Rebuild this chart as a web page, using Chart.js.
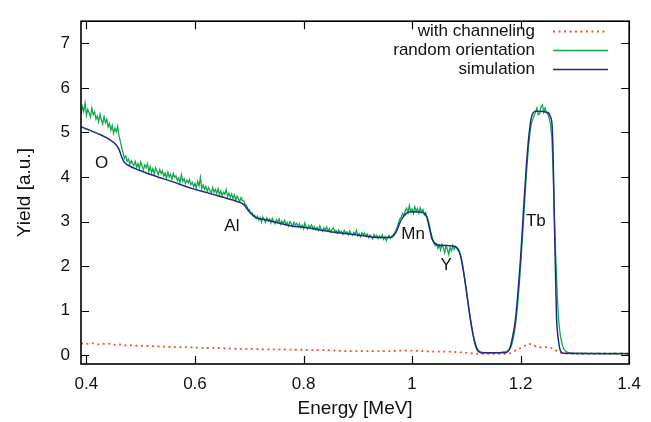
<!DOCTYPE html>
<html>
<head>
<meta charset="utf-8">
<script src="https://cdn.jsdelivr.net/npm/chart.js@4.4.0/dist/chart.umd.min.js"></script>
<style>
  html, body { margin: 0; padding: 0; background: #fff; }
</style>
</head>
<body>
<canvas id="rbsChart" width="651" height="422"></canvas>
<script>
// RBS spectrum, random orientation: one value per channel
const channelStart = 0.39;    // energy of first channel [MeV]
const channelWidth = 0.0025;  // [MeV]
const randomYield = [
  5.42, 5.58, 5.47, 5.66, 5.38, 5.52, 5.44, 5.35, 5.55, 5.40,
  5.46, 5.30, 5.37, 5.24, 5.41, 5.28, 5.19, 5.36, 5.22, 5.30,
  5.12, 5.20, 5.05, 5.16, 4.98, 5.10, 5.02, 5.14, 4.92, 4.80,
  4.66, 4.55, 4.42, 4.47, 4.35, 4.40, 4.29, 4.37, 4.31, 4.26,
  4.35, 4.22, 4.30, 4.18, 4.34, 4.25, 4.16, 4.27, 4.21, 4.30,
  4.12, 4.24, 4.10, 4.19, 4.07, 4.21, 4.13, 4.05, 4.17, 4.08,
  4.14, 4.02, 4.09, 3.97, 4.11, 4.00, 4.06, 3.95, 4.08, 3.99,
  4.03, 3.92, 3.98, 3.88, 4.05, 3.90, 3.96, 3.85, 3.93, 3.87,
  3.94, 3.83, 3.88, 3.78, 3.86, 3.75, 3.90, 3.80, 3.99, 3.74,
  3.82, 3.72, 3.79, 3.68, 3.76, 3.70, 3.64, 3.77, 3.66, 3.72,
  3.63, 3.74, 3.60, 3.69, 3.58, 3.66, 3.61, 3.72, 3.56, 3.64,
  3.55, 3.62, 3.52, 3.60, 3.49, 3.57, 3.51, 3.45, 3.54, 3.47,
  3.46, 3.38, 3.36, 3.28, 3.27, 3.18, 3.20, 3.12, 3.14, 3.06,
  3.12, 3.03, 3.09, 2.99, 3.10, 3.04, 2.98, 3.08, 3.01, 3.06,
  2.97, 3.07, 3.00, 2.95, 3.04, 2.98, 3.06, 2.94, 3.01, 2.96,
  3.03, 2.93, 2.98, 2.90, 3.00, 2.95, 2.89, 2.98, 2.92, 2.96,
  2.88, 2.95, 2.86, 2.92, 2.84, 2.97, 2.88, 2.83, 2.91, 2.86,
  2.92, 2.84, 2.89, 2.81, 2.87, 2.80, 2.90, 2.83, 2.78, 2.86,
  2.81, 2.88, 2.79, 2.84, 2.76, 2.82, 2.86, 2.77, 2.80, 2.74,
  2.81, 2.75, 2.78, 2.71, 2.80, 2.74, 2.77, 2.70, 2.79, 2.73,
  2.69, 2.76, 2.72, 2.80, 2.68, 2.73, 2.66, 2.75, 2.70, 2.74,
  2.67, 2.72, 2.64, 2.70, 2.66, 2.61, 2.71, 2.65, 2.69, 2.62,
  2.68, 2.63, 2.70, 2.60, 2.66, 2.57, 2.64, 2.69, 2.62, 2.67,
  2.70, 2.74, 2.80, 2.88, 2.97, 3.06, 3.10, 3.18, 3.14, 3.24,
  3.30, 3.20, 3.36, 3.22, 3.28, 3.18, 3.33, 3.24, 3.29, 3.19,
  3.31, 3.22, 3.27, 3.15, 3.20, 3.10, 3.02, 2.88, 2.74, 2.62,
  2.54, 2.46, 2.50, 2.40, 2.47, 2.36, 2.49, 2.42, 2.30, 2.45,
  2.38, 2.26, 2.42, 2.34, 2.46, 2.37, 2.44, 2.40, 2.35, 2.30,
  2.22, 2.08, 1.88, 1.66, 1.46, 1.24, 1.02, 0.82, 0.63, 0.46,
  0.33, 0.22, 0.15, 0.10, 0.08, 0.07, 0.06, 0.05, 0.06, 0.05,
  0.05, 0.04, 0.05, 0.05, 0.04, 0.05, 0.06, 0.05, 0.05, 0.06,
  0.06, 0.07, 0.07, 0.08, 0.09, 0.11, 0.13, 0.19, 0.30, 0.44,
  0.62, 0.88, 1.20, 1.58, 2.00, 2.46, 2.95, 3.45, 3.95, 4.38,
  4.75, 5.02, 5.22, 5.30, 5.38, 5.46, 5.55, 5.40, 5.42, 5.58,
  5.62, 5.46, 5.55, 5.44, 5.42, 5.32, 5.18, 4.90, 4.10, 3.00,
  2.10, 1.35, 0.80, 0.50, 0.32, 0.20, 0.13, 0.09, 0.07, 0.06,
  0.05, 0.05, 0.04, 0.05, 0.04, 0.04, 0.05, 0.04, 0.04, 0.05,
  0.04, 0.04, 0.05, 0.04, 0.04, 0.04, 0.05, 0.04, 0.04, 0.04,
  0.04, 0.05, 0.04, 0.04, 0.04, 0.04, 0.05, 0.04, 0.04, 0.04,
  0.04, 0.04, 0.04, 0.05, 0.04, 0.04, 0.04, 0.04, 0.05, 0.04,
  0.04, 0.04, 0.04, 0.04, 0.04
];

// simulated spectrum
const simEnergy = [0.39, 0.40, 0.42, 0.44, 0.455, 0.46, 0.465, 0.47, 0.476, 0.50,
  0.534, 0.55, 0.595, 0.622, 0.65, 0.68, 0.69, 0.70, 0.711, 0.73,
  0.778, 0.80, 0.85, 0.90, 0.94, 0.96, 0.97, 0.98, 0.99, 1.00,
  1.02, 1.027, 1.032, 1.037, 1.046, 1.06, 1.079, 1.088, 1.095, 1.10,
  1.105, 1.11, 1.115, 1.12, 1.13, 1.17, 1.18, 1.185, 1.19, 1.195,
  1.20, 1.205, 1.21, 1.215, 1.22, 1.228, 1.25, 1.255, 1.258, 1.26,
  1.262, 1.264, 1.266, 1.27, 1.274, 1.28, 1.40];
const simYield = [5.13, 5.08, 4.98, 4.86, 4.72, 4.62, 4.45, 4.33, 4.27, 4.14,
  3.99, 3.93, 3.74, 3.65, 3.55, 3.44, 3.38, 3.22, 3.10, 3.04,
  2.90, 2.87, 2.77, 2.70, 2.64, 2.64, 2.75, 3.04, 3.19, 3.22,
  3.20, 3.10, 2.85, 2.60, 2.48, 2.46, 2.44, 2.29, 1.85, 1.45,
  1.00, 0.61, 0.30, 0.12, 0.05, 0.05, 0.15, 0.40, 0.75, 1.40,
  2.20, 3.20, 4.15, 4.90, 5.35, 5.48, 5.45, 5.35, 5.15, 4.40,
  3.10, 2.00, 0.90, 0.30, 0.08, 0.04, 0.03];

// aligned (channeling) spectrum
const chanEnergy = [0.39, 0.40, 0.41, 0.42, 0.43, 0.44, 0.45, 0.46, 0.47, 0.48,
  0.49, 0.50, 0.52, 0.54, 0.56, 0.58, 0.60, 0.62, 0.64, 0.66,
  0.68, 0.70, 0.72, 0.74, 0.76, 0.78, 0.80, 0.82, 0.84, 0.86,
  0.88, 0.90, 0.92, 0.94, 0.96, 0.98, 1.00, 1.02, 1.04, 1.06,
  1.08, 1.10, 1.12, 1.14, 1.16, 1.18, 1.19, 1.20, 1.21, 1.215,
  1.22, 1.23, 1.24, 1.25, 1.26, 1.27, 1.28, 1.30, 1.35, 1.40];
const chanYield = [0.26, 0.25, 0.27, 0.24, 0.25, 0.26, 0.23, 0.24, 0.22, 0.22,
  0.21, 0.21, 0.20, 0.19, 0.18, 0.18, 0.17, 0.16, 0.16, 0.15,
  0.14, 0.14, 0.13, 0.13, 0.13, 0.12, 0.12, 0.11, 0.11, 0.10,
  0.09, 0.09, 0.09, 0.09, 0.09, 0.10, 0.10, 0.09, 0.08, 0.08,
  0.07, 0.05, 0.03, 0.03, 0.03, 0.04, 0.10, 0.16, 0.22, 0.25,
  0.24, 0.19, 0.17, 0.18, 0.14, 0.07, 0.04, 0.03, 0.03, 0.03];

const xTicks = [0.4, 0.6, 0.8, 1.0, 1.2, 1.4];
const yTicks = [0, 1, 2, 3, 4, 5, 6, 7];

const elementNames = ["O", "Al", "Mn", "Y", "Tb"];
const elementEnergy = [0.428, 0.668, 1.002, 1.063, 1.228];
const elementYield = [4.31, 2.90, 2.71, 2.01, 3.01];

const FONT = "'Liberation Sans', Arial, sans-serif";
const GREEN = "#13a84a";
const BLUE = "#1f2b8c";
const RED = "#f0522e";

const randomPoints = randomYield.map((v, i) => ({ x: channelStart + i * channelWidth, y: v }));
const simPoints = simEnergy.map((e, i) => ({ x: e, y: simYield[i] }));
const chanPoints = chanEnergy.map((e, i) => ({ x: e, y: chanYield[i] }));

const legendItems = [
  { text: "with channeling", color: RED, dash: [2, 3.5] },
  { text: "random orientation", color: GREEN, dash: [] },
  { text: "simulation", color: BLUE, dash: [] },
];

// gnuplot-like frame: box, inward ticks on all sides, legend and element labels
const framePlugin = {
  id: "frame",
  afterDatasetsDraw(chart) {
    const { ctx, chartArea: a, scales: { x, y } } = chart;
    ctx.save();
    ctx.strokeStyle = "#000";
    ctx.lineWidth = 1.2;
    ctx.beginPath();
    x.ticks.forEach(t => {
      const px = Math.round(x.getPixelForValue(t.value)) + 0.5;
      ctx.moveTo(px, a.bottom); ctx.lineTo(px, a.bottom - 8);
      ctx.moveTo(px, a.top); ctx.lineTo(px, a.top + 8);
    });
    y.ticks.forEach(t => {
      const py = Math.round(y.getPixelForValue(t.value)) + 0.5;
      ctx.moveTo(a.left, py); ctx.lineTo(a.left + 8, py);
      ctx.moveTo(a.right, py); ctx.lineTo(a.right - 8, py);
    });
    ctx.stroke();
    ctx.lineWidth = 1.6;
    ctx.strokeRect(a.left, a.top, a.right - a.left, a.bottom - a.top);

    ctx.fillStyle = "#111";
    ctx.font = "17px " + FONT;
    ctx.textAlign = "center";
    ctx.textBaseline = "middle";
    elementNames.forEach((name, i) => {
      ctx.fillText(name, x.getPixelForValue(elementEnergy[i]), y.getPixelForValue(elementYield[i]));
    });

    ctx.textAlign = "right";
    legendItems.forEach((item, i) => {
      const ly = 31 + i * 19;
      ctx.fillStyle = "#111";
      ctx.fillText(item.text, 535, ly);
      ctx.strokeStyle = item.color;
      ctx.lineWidth = item.dash.length ? 1.8 : 1.5;
      ctx.setLineDash(item.dash);
      ctx.beginPath();
      ctx.moveTo(553, ly + 0.5); ctx.lineTo(608, ly + 0.5);
      ctx.stroke();
      ctx.setLineDash([]);
    });
    ctx.restore();
  }
};

new Chart(document.getElementById("rbsChart"), {
  type: "line",
  data: {
    datasets: [
      {
        label: "simulation",
        data: simPoints,
        borderColor: BLUE,
        borderWidth: 1.5,
        pointRadius: 0,
        cubicInterpolationMode: "monotone",
        order: 0,
      },
      {
        label: "with channeling",
        data: chanPoints,
        borderColor: RED,
        borderWidth: 1.8,
        borderDash: [2, 3.5],
        pointRadius: 0,
        tension: 0.3,
        order: 1,
      },
      {
        label: "random orientation",
        data: randomPoints,
        borderColor: GREEN,
        borderWidth: 1.3,
        pointRadius: 0,
        tension: 0,
        order: 2,
      },
    ],
  },
  options: {
    responsive: false,
    animation: false,
    devicePixelRatio: 1,
    layout: { padding: { top: 11, right: 17, left: 0, bottom: 0 } },
    plugins: {
      legend: { display: false },
      tooltip: { enabled: false },
    },
    scales: {
      x: {
        type: "linear",
        min: 0.39,
        max: 1.4,
        grid: { display: false, drawTicks: false },
        border: { display: false },
        afterBuildTicks: s => { s.ticks = xTicks.map(v => ({ value: v })); },
        afterFit: s => { s.height = 58; },
        ticks: {
          padding: 10,
          color: "#111",
          font: { family: FONT, size: 17 },
          callback: v => String(+v.toFixed(1)),
        },
        title: {
          display: true,
          text: "Energy [MeV]",
          color: "#111",
          font: { family: FONT, size: 19 },
          padding: { top: 0, bottom: 2 },
        },
      },
      y: {
        min: -0.2,
        max: 7.5,
        grid: { display: false, drawTicks: false },
        border: { display: false },
        afterBuildTicks: s => { s.ticks = yTicks.map(v => ({ value: v })); },
        afterFit: s => { s.width = 81; },
        ticks: {
          padding: 11,
          color: "#111",
          font: { family: FONT, size: 17 },
        },
        title: {
          display: true,
          text: "Yield [a.u.]",
          color: "#111",
          font: { family: FONT, size: 19 },
          padding: { top: 13, bottom: 0 },
        },
      },
    },
  },
  plugins: [framePlugin],
});
</script>
</body>
</html>
